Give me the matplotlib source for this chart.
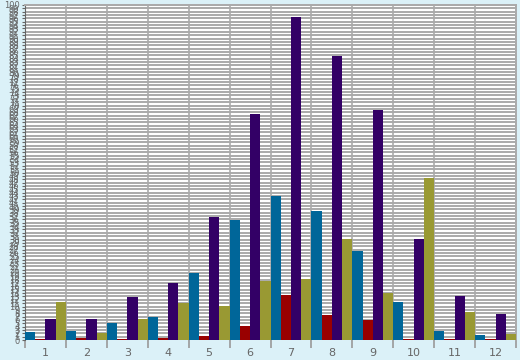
import numpy as np
import matplotlib.pyplot as plt

groups = [str(i) for i in range(1, 13)]
blue = [2.4, 2.8, 5.1, 6.9, 19.9, 35.9, 43.1, 38.6, 26.6, 11.4, 2.8, 1.6]
red = [0.4, 0.5, 0.4, 0.6, 1.2, 4.3, 13.5, 7.5, 6.0, 0.4, 0.4, 0.4]
purple = [6.3, 6.3, 12.9, 16.9, 36.8, 67.4, 96.4, 84.7, 68.6, 30.2, 13.2, 7.8]
olive = [11.4, 2.2, 6.3, 10.9, 10.2, 17.7, 18.3, 30.2, 14.1, 48.5, 8.4, 1.8]

series = [blue, red, purple, olive]
colors = ["#006699", "#990000", "#330066", "#999933"]

bg = "#dbf1f8"
fig = plt.figure(figsize=(5.2, 3.6), dpi=100, facecolor=bg)
ax = fig.add_axes([25 / 520, 20 / 360, 491 / 520, 335 / 360])
ax.set_facecolor("white")

x = np.arange(len(groups))
w = 0.25
for k, (vals, c) in enumerate(zip(series, colors)):
    ax.bar(x - 0.375 + k * w, vals, width=w, color=c, zorder=3)

ax.set_xlim(-0.5, len(groups) - 0.5)
ax.set_ylim(0, 100)

# y ticks at every unit (labels pile up as in the original)
ax.set_yticks(np.arange(0, 101, 1))
ax.set_yticklabels([str(v) for v in range(0, 101)], fontsize=6, color="#666666")
ax.tick_params(axis="y", length=2, color="#666666", pad=2)
ax.yaxis.grid(True, color="#aaaaaa", linewidth=1.4, zorder=0)

# x: labels at centres, ticks/grid at boundaries
ax.set_xticks(x)
ax.set_xticklabels(groups, fontsize=8, color="#666666")
ax.tick_params(axis="x", which="major", length=0, pad=6)
ax.set_xticks(np.arange(-0.5, len(groups), 1), minor=True)
ax.tick_params(axis="x", which="minor", length=6, width=1.2, color="#999999")
ax.xaxis.grid(True, which="minor", color="#aaaaaa", linewidth=1.2, zorder=1)

for s in ["top", "right"]:
    ax.spines[s].set_color("#aaaaaa")
    ax.spines[s].set_linewidth(1.4)
ax.spines["left"].set_color("#666666")
ax.spines["bottom"].set_visible(False)
ax.set_axisbelow(True)

fig.savefig("out.png", dpi=100, facecolor=bg)
